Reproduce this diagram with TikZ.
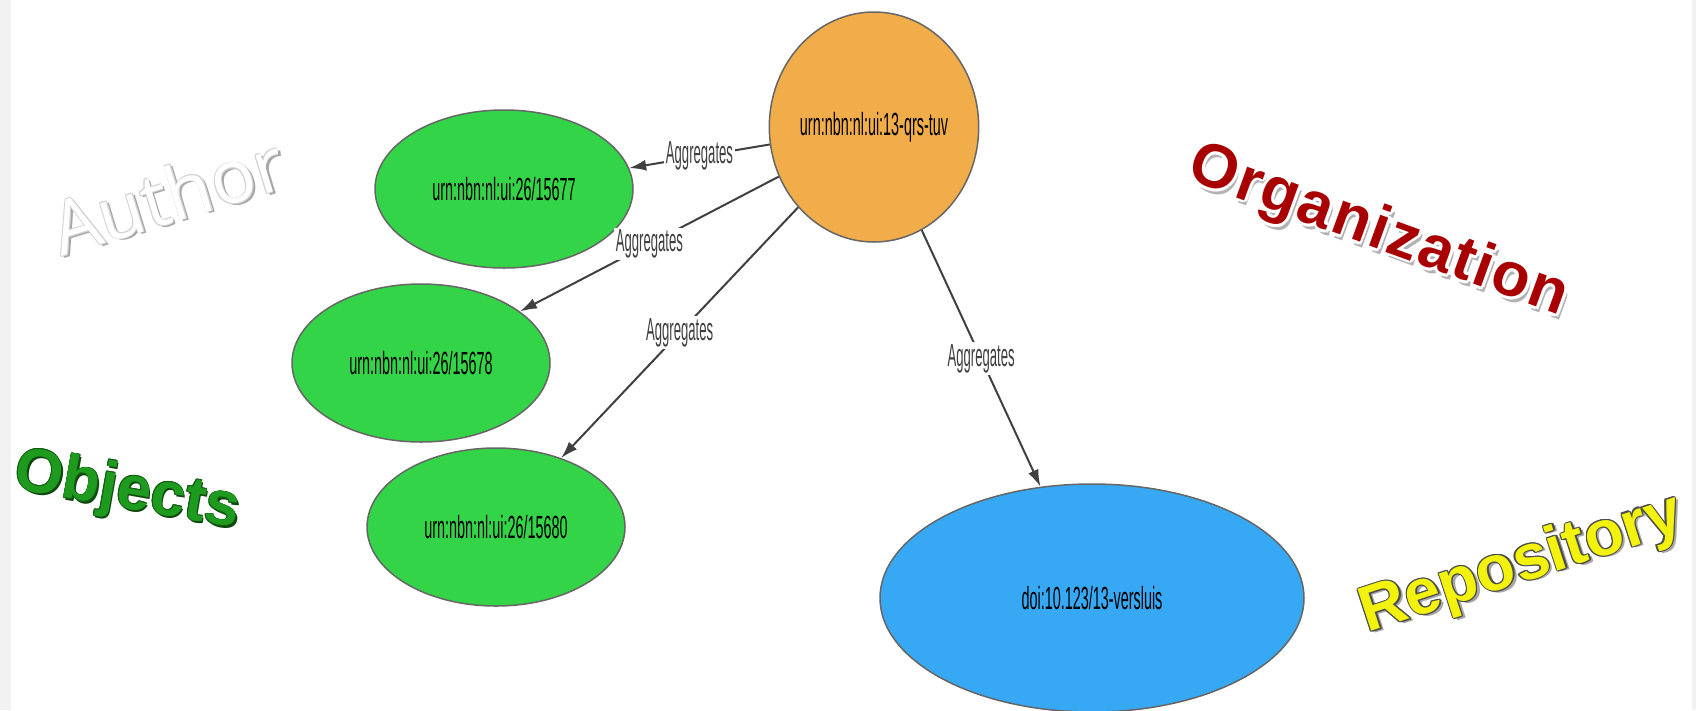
\documentclass[tikz,border=0pt]{standalone}
\usepackage{fontspec}
\setmainfont{Liberation Sans}
\newfontfamily\urnfont[FakeStretch=0.45]{Liberation Sans}
\newfontfamily\relfont[FakeStretch=0.41]{Liberation Sans}
\newfontfamily\authorfont{Open Sans}
\newfontfamily\orgfont[LetterSpace=3]{Liberation Sans}
\usetikzlibrary{shapes.geometric,arrows.meta}
\definecolor{rootfill}{HTML}{F0AD4A}
\definecolor{objfill}{HTML}{33D448}
\definecolor{repofill}{HTML}{36A8F4}
\definecolor{orgred}{HTML}{A80000}
\definecolor{objgreen}{HTML}{1E9B1E}
\definecolor{repoyellow}{HTML}{F2F20C}
\tikzstyle{pidnode} = [ellipse,draw=black!60,line width=1.5pt,inner sep=0pt,
  font=\urnfont\fontsize{32}{32}\selectfont]
\tikzstyle{objnode} = [pidnode,fill=objfill,minimum width=258pt,minimum height=158pt]
\tikzstyle{aggregates} = [draw=black!75,line width=2pt,-{Latex[length=17pt,width=11pt]}]
\tikzstyle{rellabel} = [fill=white,inner sep=2pt,text=black!75,
  font=\relfont\fontsize{32}{32}\selectfont]
\tikzstyle{banner} = [inner sep=0pt,font=\bfseries\fontsize{62}{62}\selectfont]
% shadow, rim, face, rim width, text
\newcommand{\wordart}[5]{%
  \rlap{\kern\dimexpr#4pt+1.5pt\relax\raisebox{\dimexpr-#4pt-1.5pt\relax}{\textcolor{#1}{#5}}}%
  \foreach \ang in {0,45,...,315}{%
    \pgfmathsetmacro\dx{#4*cos(\ang)}\pgfmathsetmacro\dy{#4*sin(\ang)}%
    \rlap{\kern\dx pt\raisebox{\dy pt}{\textcolor{#2}{#5}}}}%
  \textcolor{#3}{#5}}

\begin{document}
\begin{tikzpicture}[x=1pt,y=-1pt]
  \useasboundingbox (0,0) rectangle (1696,710);
  \fill [black!5] (0,0) rectangle (11,710);
  \fill [black!5] (1692,0) rectangle (1696,710);
  \node [pidnode,fill=rootfill,minimum width=194pt,minimum height=230pt] (root)
    at (874,127) {urn:nbn:nl:ui:13-qrs-tuv};
  \node [objnode] (obj1) at (504,189) {urn:nbn:nl:ui:26/15677};
  \node [objnode] (obj2) at (421,363) {urn:nbn:nl:ui:26/15678};
  \node [objnode] (obj3) at (496,527) {urn:nbn:nl:ui:26/15680};
  \node [pidnode,fill=repofill,minimum width=424pt,minimum height=228pt] (repo)
    at (1092,598) {doi:10.123/13-versluis};
  \foreach \target in {obj1,obj2,obj3,repo}
    \draw [aggregates] (root) -- node [rellabel] (lbl\target) {Aggregates} (\target);
  \node [banner,rotate=17,font=\authorfont\fontsize{74}{74}\selectfont] (author)
    at (168,196) {\wordart{gray!70}{gray!35}{white}{0.8}{Author}};
  \node [banner,rotate=-10] (objects)
    at (127,493) {\wordart{objgreen!45!black}{objgreen!60!black}{objgreen}{0.6}{Objects}};
  \node [banner,rotate=-20,font=\orgfont\bfseries\fontsize{62}{62}\selectfont] (organization)
    at (1378,233) {\wordart{gray!60}{white}{orgred}{3}{Organization}};
  \node [banner,rotate=18,font=\bfseries\fontsize{64}{64}\selectfont] (repository)
    at (1522,566) {\wordart{gray!70}{black!70}{repoyellow}{1.2}{Repository}};
\end{tikzpicture}
\end{document}
